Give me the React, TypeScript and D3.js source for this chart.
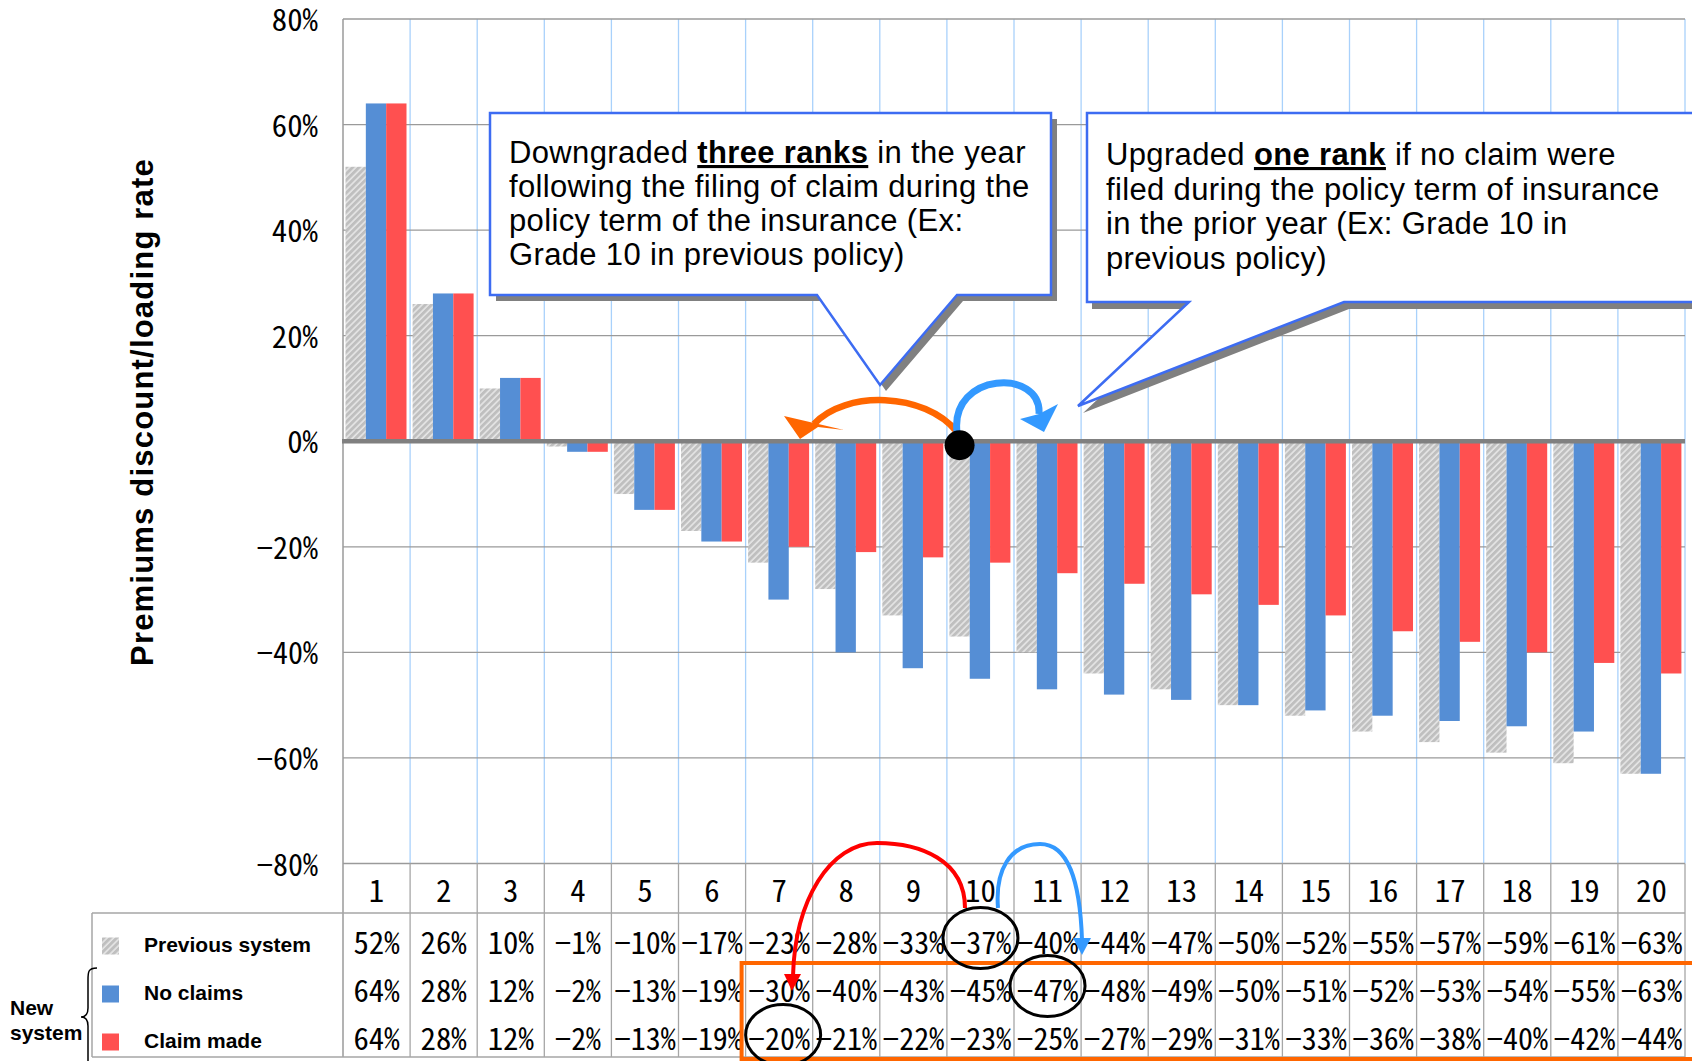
import React from "react";
import * as d3 from "d3";

// Grades of the non-fleet rating system
const grades = ["1", "2", "3", "4", "5", "6", "7", "8", "9", "10", "11", "12", "13", "14", "15", "16", "17", "18", "19", "20"];
// Discount (-) / loading (+) rate in %, per grade
const previousSystem = [52, 26, 10, -1, -10, -17, -23, -28, -33, -37, -40, -44, -47, -50, -52, -55, -57, -59, -61, -63];
const noClaims = [64, 28, 12, -2, -13, -19, -30, -40, -43, -45, -47, -48, -49, -50, -51, -52, -53, -54, -55, -63];
const claimMade = [64, 28, 12, -2, -13, -19, -20, -21, -22, -23, -25, -27, -29, -31, -33, -36, -38, -40, -42, -44];
const seriesKeys = ["previous", "noClaims", "claimMade"];
const seriesLabels = ["Previous system", "No claims", "Claim made"];
const yTicks = [80, 60, 40, 20, 0, -20, -40, -60, -80];

const W = 1692;
const H = 1061;
const SANS = '"Liberation Sans", Arial, Helvetica, sans-serif';
const NUM = '"Noto Sans Mono CJK JP", "Noto Sans CJK JP", "DejaVu Sans Mono", monospace';
const BLUE = "#558ed5";
const RED = "#ff5050";
const CHAR_W = 15.4;

const fmt = (v: number) => (v < 0 ? "\u2212" + Math.abs(v) + "%" : v + "%");

function Num({ x, y, text, anchor = "middle" }: { x: number; y: number; text: string; anchor?: string }) {
  return (
    <text
      x={x}
      y={y}
      textAnchor={anchor as any}
      fontFamily={NUM}
      fontSize={30.5}
      textLength={text.length * CHAR_W}
      lengthAdjust="spacingAndGlyphs"
      fill="#000"
    >
      {text}
    </text>
  );
}

export default function App() {
  const plotLeft = 343;
  const plotRight = 1685;
  const x = d3.scaleBand<string>().domain(grades).range([plotLeft, plotRight]).padding(0);
  const xs = d3.scaleBand<string>().domain(seriesKeys).range([2.5, 63.5]).padding(0);
  const y = d3.scaleLinear().domain([-80, 80]).range([863.5, 19]);
  const bw = x.bandwidth();

  const tableTop = 913;
  const rowH = 48;
  const tableBottom = tableTop + rowH * 3;
  const rowBase = (i: number) => tableTop + rowH * i + 40;

  const seriesValues = [previousSystem, noClaims, claimMade];
  const fills = ["url(#hatch)", BLUE, RED];

  const y0 = y(0);
  const bandL = (g: string) => x(g) as number;
  const bandC = (g: string) => (x(g) as number) + bw / 2;

  // Anchor for the annotation: previous-system bar of grade 10
  const dotX = bandL("10") + (xs("previous") as number) + xs.bandwidth() / 2;

  const callout1 = `M 490 113 H 1051 V 295 H 957 L 880 385 L 817 295 H 490 Z`;
  const callout2 = `M 1087 113 H 1730 V 302 H 1344 L 1078 406 L 1189 302 H 1087 Z`;

  return (
    <svg
      width={W}
      height={H}
      viewBox={`0 0 ${W} ${H}`}
      style={{ position: "absolute", left: 0, top: 0, background: "#fff" }}
    >
      <defs>
        <pattern id="hatch" width="4.5" height="4.5" patternUnits="userSpaceOnUse" patternTransform="rotate(45)">
          <rect width="4.5" height="4.5" fill="#bfbfbf" />
          <line x1="1" y1="0" x2="1" y2="4.5" stroke="#e9e9e9" strokeWidth="1.5" />
        </pattern>
      </defs>

      {/* vertical category dividers in the plot */}
      {grades.map((g) => (
        <line key={"vb" + g} x1={bandL(g) + bw} x2={bandL(g) + bw} y1={y(80)} y2={y(-80)} stroke="#a9d1fb" strokeWidth={1.3} />
      ))}
      {/* horizontal gridlines */}
      {yTicks.map((t) => (
        <line key={"g" + t} x1={plotLeft} x2={plotRight} y1={y(t)} y2={y(t)} stroke="#9a9a9a" strokeWidth={1.3} />
      ))}
      <line x1={plotLeft} x2={plotLeft} y1={y(80)} y2={tableBottom} stroke="#9a9a9a" strokeWidth={1.5} />

      {/* bars */}
      {seriesValues.map((vals, si) =>
        vals.map((v, i) => {
          const g = grades[i];
          const bx = bandL(g) + (xs(seriesKeys[si]) as number);
          return (
            <rect
              key={si + "-" + g}
              x={bx}
              width={xs.bandwidth()}
              y={y(Math.max(0, v))}
              height={Math.abs(y(v) - y0)}
              fill={fills[si]}
            />
          );
        })
      )}

      {/* zero line */}
      <line x1={plotLeft - 1} x2={plotRight} y1={y0} y2={y0} stroke="#808080" strokeWidth={4.5} />

      {/* y tick labels */}
      {yTicks.map((t) => (
        <Num key={"t" + t} x={318} y={y(t) + 12} text={fmt(t)} anchor="end" />
      ))}

      {/* axis title */}
      <text
        transform={`translate(153, 412) rotate(-90)`}
        textAnchor="middle"
        fontFamily={SANS}
        fontWeight="bold"
        fontSize={31}
        letterSpacing={1.2}
        fill="#000"
      >
        Premiums discount/loading rate
      </text>

      {/* callout: downgrade */}
      <path d={callout1} transform="translate(6,6)" fill="#808080" />
      <path d={callout1} fill="#fff" stroke="#3d6cf2" strokeWidth={2.5} />
      <g fontFamily={SANS} fontSize={31} fill="#000" letterSpacing={0.35}>
        <text x={509} y={163}>
          Downgraded{" "}
          <tspan fontWeight="bold" textDecoration="underline">three ranks</tspan> in the year
        </text>
        <text x={509} y={197}>following the filing of claim during the</text>
        <text x={509} y={231}>policy term of the insurance (Ex:</text>
        <text x={509} y={265}>Grade 10 in previous policy)</text>
      </g>

      {/* callout: upgrade */}
      <path d={callout2} transform="translate(5,7)" fill="#808080" />
      <path d={callout2} fill="#fff" stroke="#3d6cf2" strokeWidth={2.5} />
      <g fontFamily={SANS} fontSize={31} fill="#000" letterSpacing={0.35}>
        <text x={1106} y={165}>
          Upgraded <tspan fontWeight="bold" textDecoration="underline">one rank</tspan> if no claim were
        </text>
        <text x={1106} y={199.5}>filed during the policy term of insurance</text>
        <text x={1106} y={234}>in the prior year (Ex: Grade 10 in</text>
        <text x={1106} y={268.5}>previous policy)</text>
      </g>

      {/* rank movement arrows on the chart */}
      <path d="M 957 432 C 925 392, 845 390, 814 424" fill="none" stroke="#ff6600" strokeWidth={6.5} />
      <polygon points="784,416 844,430 818,427 800,439" fill="#ff6600" />
      <path d="M 957 432 C 950 372, 1042 368, 1039 414" fill="none" stroke="#3399ff" strokeWidth={7} />
      <polygon points="1044,432 1020,419 1039,414 1058,404" fill="#3399ff" />
      <circle cx={dotX} cy={y0 + 4} r={15} fill="#000" />

      {/* category row */}
      {grades.map((g) => (
        <Num key={"c" + g} x={bandC(g)} y={902} text={g} />
      ))}

      {/* table grid */}
      {grades.map((g) => (
        <line key={"vt" + g} x1={bandL(g) + bw} x2={bandL(g) + bw} y1={y(-80)} y2={tableBottom} stroke="#a6a6a6" strokeWidth={1.3} />
      ))}
      <line x1={92} x2={plotRight} y1={tableTop} y2={tableTop} stroke="#a6a6a6" strokeWidth={1.5} />
      <line x1={92} x2={plotRight} y1={tableBottom} y2={tableBottom} stroke="#a6a6a6" strokeWidth={1.5} />
      <line x1={92} x2={92} y1={tableTop} y2={tableBottom} stroke="#a6a6a6" strokeWidth={1.5} />

      {/* legend keys and labels */}
      {seriesLabels.map((lab, si) => (
        <g key={"lg" + si}>
          <rect x={102} y={rowBase(si) - 15.5} width={17} height={17} fill={fills[si]} />
          <text x={144} y={rowBase(si) - 1} fontFamily={SANS} fontWeight="bold" fontSize={21} fill="#000">
            {lab}
          </text>
        </g>
      ))}
      <text fontFamily={SANS} fontWeight="bold" fontSize={21} fill="#000">
        <tspan x={10} y={1015}>New</tspan>
        <tspan x={10} y={1040}>system</tspan>
      </text>
      <path
        d="M 97 968 C 88 968, 88 972, 88 980 L 88 1008 C 88 1014, 86 1017, 81 1017 C 86 1017, 88 1020, 88 1026 L 88 1061"
        fill="none"
        stroke="#000"
        strokeWidth={1.5}
      />

      {/* table values */}
      {seriesValues.map((vals, si) =>
        vals.map((v, i) => <Num key={"v" + si + "-" + i} x={bandC(grades[i])} y={rowBase(si) + 1} text={fmt(v)} />)
      )}

      {/* highlight of the new system from grade 7 */}
      <rect x={bandL("7") - 4} y={963} width={1000} height={96} fill="none" stroke="#ff6600" strokeWidth={4} />

      {/* circled examples */}
      <ellipse cx={bandC("10")} cy={938} rx={37.5} ry={30.5} fill="none" stroke="#000" strokeWidth={3} />
      <ellipse cx={bandC("11")} cy={986} rx={37.5} ry={30.5} fill="none" stroke="#000" strokeWidth={3} />
      <ellipse cx={bandC("7") + 4} cy={1035} rx={37.5} ry={30.5} fill="none" stroke="#000" strokeWidth={3} />

      {/* table arrows */}
      <path d="M 965 908 C 965 860, 920 843, 877 843 C 830 843, 795 900, 793 976" fill="none" stroke="#ff0000" strokeWidth={4} />
      <polygon points="784,974 801,974 792,991" fill="#ff0000" />
      <path d="M 998 908 C 995 870, 1010 844, 1040 844 C 1068 844, 1080 880, 1082 940" fill="none" stroke="#3399ff" strokeWidth={4} />
      <polygon points="1073,938 1091,938 1082,955" fill="#3399ff" />
    </svg>
  );
}
